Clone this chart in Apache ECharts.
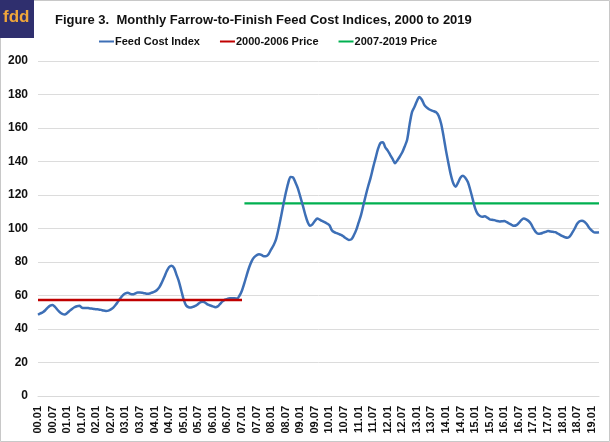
<!DOCTYPE html>
<html>
<head>
<meta charset="utf-8">
<script src="https://cdn.jsdelivr.net/npm/echarts@6/dist/echarts.min.js"></script>
<style>
html,body{margin:0;padding:0;background:#fff;}
#c{width:610px;height:442px;}
</style>
</head>
<body>
<div id="c"></div>
<script>
// Monthly feed cost index, 2000.01 – 2019.04
const feedCost2000 = [48.5,49.3,50.0,51.2,52.8,54.0,54.4,53.2,51.5,50.0,49.0,48.6];
const feedCost2001 = [49.5,50.8,52.0,53.0,53.6,53.9,52.8,52.5,52.6,52.4,52.2,52.0];
const feedCost2002 = [51.8,51.7,51.4,51.0,50.8,51.0,51.7,52.8,54.5,56.5,58.5,60.2];
const feedCost2003 = [61.3,61.6,61.0,60.7,61.2,61.8,61.8,61.6,61.3,61.0,61.2,61.8];
const feedCost2004 = [62.3,63.3,65.0,67.8,71.0,74.5,77.0,77.8,76.5,72.5,68.5,63.0];
const feedCost2005 = [57.5,54.0,53.0,52.8,53.3,54.0,55.0,56.0,56.3,55.5,54.5,54.0];
const feedCost2006 = [53.5,53.0,53.5,55.0,56.5,57.5,58.0,58.3,58.3,58.3,58.2,60.0];
const feedCost2007 = [63.0,67.5,72.5,77.0,80.5,82.8,84.0,84.7,84.3,83.4,83.5,84.8];
const feedCost2008 = [87.5,90.0,93.5,99.5,106.5,114.0,121.0,127.0,130.8,130.5,127.5,124.0];
const feedCost2009 = [119.0,114.0,108.5,104.0,101.7,102.5,104.5,106.0,105.3,104.5,103.8,103.0];
const feedCost2010 = [102.0,99.0,97.8,97.2,96.6,96.0,95.0,94.0,93.2,93.5,95.8,99.0];
const feedCost2011 = [103.5,108.0,114.0,120.0,125.5,130.5,136.5,142.0,147.5,151.0,151.5,148.5];
const feedCost2012 = [146.5,144.0,141.5,139.0,140.8,143.0,145.5,149.0,153.0,162.0,169.5,172.5];
const feedCost2013 = [176.0,178.5,177.0,174.0,172.3,171.2,170.5,170.0,169.3,167.2,162.5,155.0];
const feedCost2014 = [146.5,139.0,132.0,127.0,125.0,127.5,130.5,131.5,130.2,127.8,123.0,117.5];
const feedCost2015 = [112.0,108.8,107.5,107.0,107.3,106.5,105.5,105.2,105.0,104.5,104.2,104.3];
const feedCost2016 = [104.5,103.8,103.0,102.2,101.6,102.0,103.3,105.0,105.9,105.5,104.5,102.8];
const feedCost2017 = [100.0,97.8,96.8,97.0,97.5,98.0,98.5,98.2,98.0,97.8,97.0,96.2];
const feedCost2018 = [95.4,94.8,94.5,95.3,97.5,100.0,102.8,104.3,104.7,104.0,102.5,100.3];
const feedCost2019 = [98.8,97.7,97.6,97.8];

// Period average prices
const price2000_2006 = 57.3;
const price2007_2019 = 115.0;
const price2000_2006_lastIdx = 84;
const price2007_2019_firstIdx = 85;

// Y ticks
const yTicks = [0,20,40,60,80,100,120,140,160,180,200];

const feedCost = [].concat(feedCost2000,feedCost2001,feedCost2002,feedCost2003,feedCost2004,
  feedCost2005,feedCost2006,feedCost2007,feedCost2008,feedCost2009,feedCost2010,feedCost2011,
  feedCost2012,feedCost2013,feedCost2014,feedCost2015,feedCost2016,feedCost2017,feedCost2018,feedCost2019);

const categories = feedCost.map((v,i)=>{
  const y = Math.floor(i/12), m = i%12+1;
  return String(y).padStart(2,'0') + '.' + String(m).padStart(2,'0');
});
const redLine = feedCost.map((v,i)=> i<=price2000_2006_lastIdx ? price2000_2006 : null);
const greenLine = feedCost.map((v,i)=> i>=price2007_2019_firstIdx ? price2007_2019 : null);

const FONT = '"Liberation Sans", Arial, sans-serif';
const chart = echarts.init(document.getElementById('c'));
chart.setOption({
  animation:false,
  backgroundColor:'#fff',
  title:{
    text:'Figure 3.  Monthly Farrow-to-Finish Feed Cost Indices, 2000 to 2019',
    left:50, top:9,
    textStyle:{fontFamily:FONT,fontSize:13,fontWeight:'bold',color:'#111'}
  },
  legend:{
    top:31, left:94,
    itemGap:20, itemWidth:15, itemHeight:2, icon:'rect',
    textStyle:{fontFamily:FONT,fontSize:11,fontWeight:'bold',color:'#111',padding:[0,0,0,-4]},
    data:['Feed Cost Index','2000-2006 Price','2007-2019 Price']
  },
  graphic:[
    {type:'rect',shape:{x:0.5,y:0.5,width:609,height:441},style:{fill:'none',stroke:'#c8c8c8',lineWidth:1},z:-1},
    {type:'rect',shape:{x:0,y:0,width:34,height:38},style:{fill:'#2f2f6e'}},
    {type:'text',left:3,top:9,style:{text:'fdd',fill:'#f0a63a',font:'bold 17px '+FONT}}
  ],
  grid:{left:38,right:11,top:61,bottom:46},
  xAxis:{
    type:'category', data:categories, boundaryGap:false,
    axisLine:{lineStyle:{color:'#d9d9d9'}},
    axisTick:{show:false},
    axisLabel:{interval:5,rotate:90,margin:10,fontFamily:FONT,fontSize:11,fontWeight:'bold',color:'#111'}
  },
  yAxis:{
    type:'value', min:yTicks[0], max:yTicks[yTicks.length-1], interval:20,
    axisLine:{show:false}, axisTick:{show:false},
    splitLine:{lineStyle:{color:'#dcdcdc',width:1}},
    axisLabel:{margin:10,fontFamily:FONT,fontSize:12,fontWeight:'bold',color:'#111'}
  },
  series:[
    {name:'Feed Cost Index',type:'line',data:feedCost,showSymbol:false,smooth:0.3,
     lineStyle:{color:'#3d6fb6',width:2.5},itemStyle:{color:'#3d6fb6'},z:3},
    {name:'2000-2006 Price',type:'line',data:redLine,showSymbol:false,
     lineStyle:{color:'#c00000',width:2.5},itemStyle:{color:'#c00000'},z:4},
    {name:'2007-2019 Price',type:'line',data:greenLine,showSymbol:false,
     lineStyle:{color:'#00b050',width:2.2},itemStyle:{color:'#00b050'},z:2}
  ]
});
</script>
</body>
</html>
